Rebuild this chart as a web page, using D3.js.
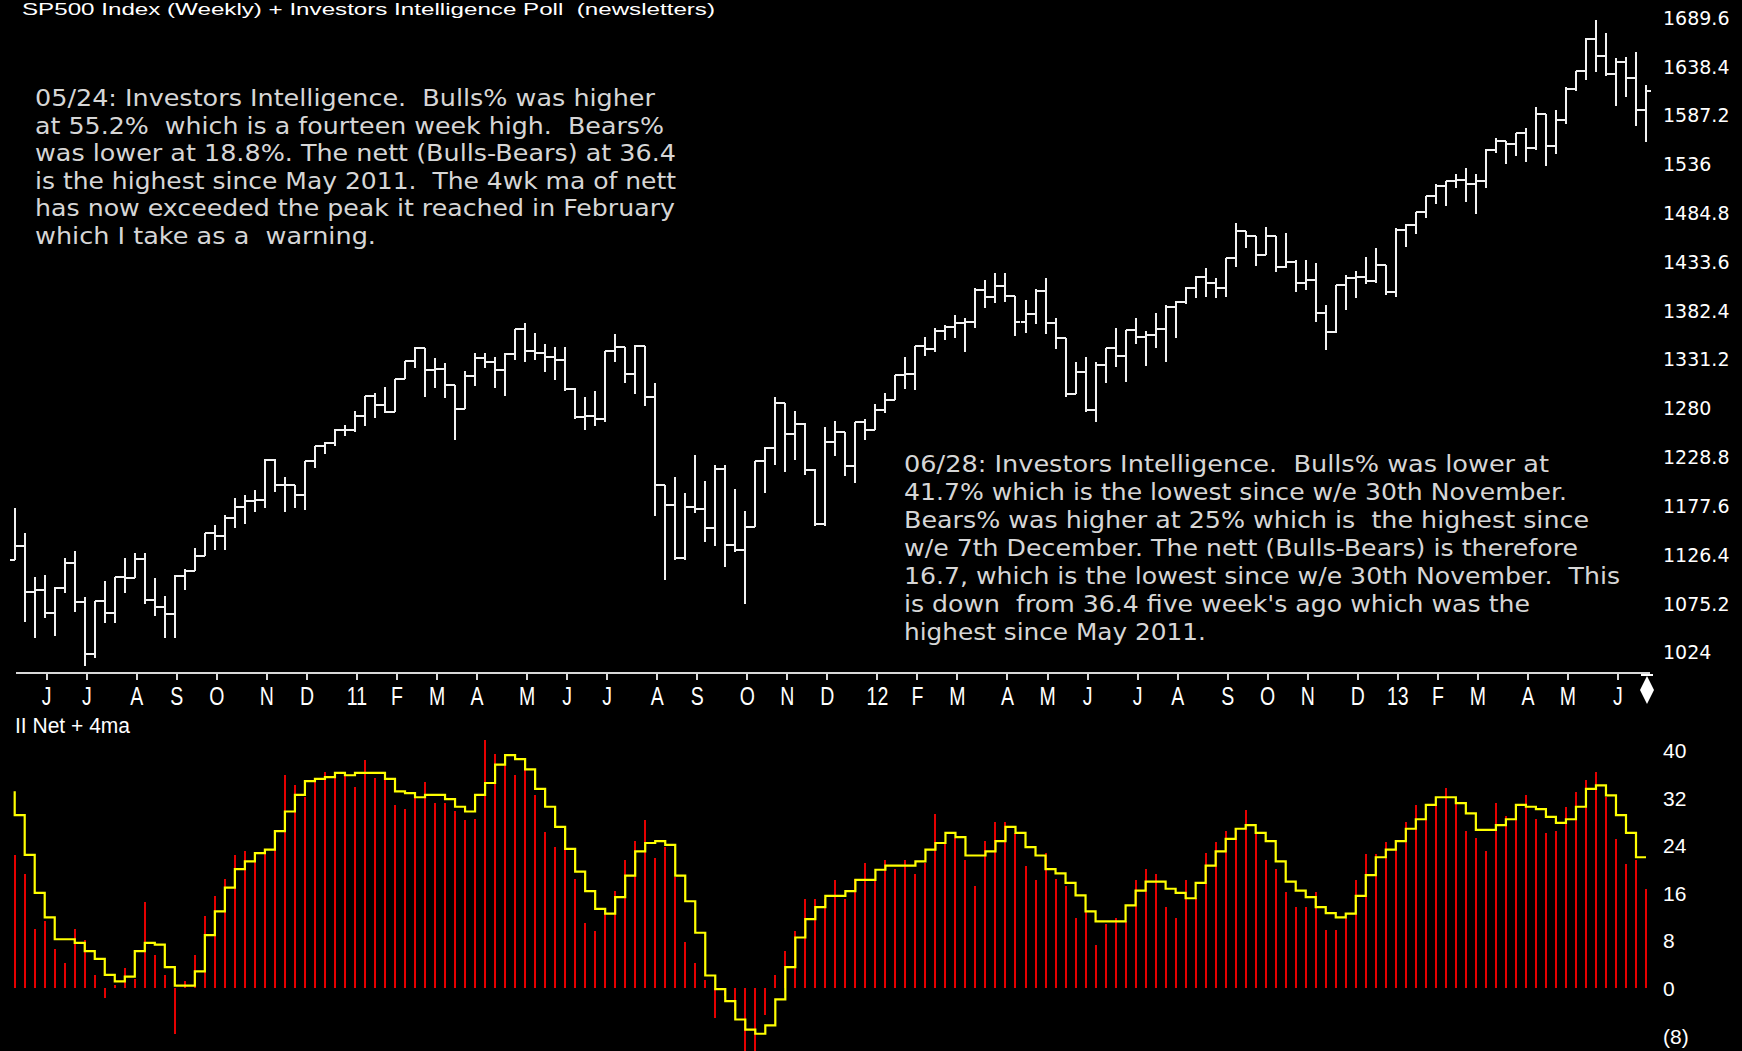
<!DOCTYPE html>
<html><head><meta charset="utf-8">
<script src="https://cdn.jsdelivr.net/npm/d3@7"></script>
<style>
html,body{margin:0;padding:0;background:#000;overflow:hidden;}
svg{display:block;}
text{white-space:pre;}
</style></head>
<body>
<svg id="chart" width="1742" height="1051"></svg>
<script>
// ---- weekly S&P 500 bars (w/e 14 May 2010 .. 28 Jun 2013) ----
const opens = [1121.0,1135.7,1087.7,1089.4,1064.9,1091.6,1117.5,1076.8,1022.6,1078.0,1064.9,1102.7,1101.6,1121.6,1079.3,1071.7,1064.6,1104.5,1109.6,1125.6,1148.7,1146.2,1165.2,1176.2,1183.1,1183.3,1225.9,1199.2,1199.7,1189.4,1224.7,1240.4,1243.9,1256.8,1257.6,1271.5,1293.2,1283.4,1276.3,1310.9,1329.2,1343.0,1319.9,1321.2,1304.3,1279.2,1313.8,1332.4,1328.2,1319.7,1337.4,1363.6,1340.2,1337.8,1333.3,1331.1,1300.2,1271.0,1271.5,1268.5,1339.7,1343.8,1316.1,1345.0,1292.3,1199.4,1178.8,1123.5,1176.8,1174.0,1154.2,1216.0,1136.4,1131.4,1155.5,1224.6,1238.3,1285.1,1253.2,1263.9,1215.7,1158.7,1244.3,1255.2,1219.7,1265.3,1257.6,1277.8,1289.1,1315.4,1316.3,1344.9,1342.6,1361.2,1365.7,1369.6,1370.9,1404.2,1397.1,1408.5,1398.1,1370.3,1378.5,1403.4,1369.1,1353.4,1295.2,1317.8,1278.0,1325.7,1342.8,1335.0,1362.2,1354.7,1356.8,1362.7,1386.0,1391.0,1405.9,1418.2,1411.1,1406.6,1437.9,1465.8,1460.2,1440.7,1460.9,1428.6,1433.2,1411.9,1414.2,1379.9,1359.9,1409.2,1416.2,1418.1,1413.6,1430.2,1402.4,1466.5,1472.1,1486.0,1503.0,1513.2,1517.9,1519.8,1515.6,1518.2,1551.2,1560.7,1556.9,1569.2,1553.3,1588.9,1555.3,1582.2,1614.4,1633.7,1667.5,1649.6,1630.7,1643.4,1626.7,1592.4];
const highs = [1175.0,1149.5,1103.4,1105.0,1092.9,1122.6,1130.7,1082.4,1077.2,1099.2,1103.4,1122.6,1128.6,1128.6,1101.7,1083.1,1105.2,1111.1,1133.1,1149.5,1157.6,1168.1,1185.6,1189.0,1194.3,1226.5,1226.5,1208.3,1199.5,1224.7,1239.7,1245.0,1257.9,1262.5,1277.2,1292.2,1295.7,1302.7,1310.4,1329.6,1344.6,1338.7,1332.4,1327.8,1301.0,1319.4,1338.3,1338.3,1334.1,1337.6,1362.8,1369.8,1359.3,1347.1,1344.6,1344.6,1301.0,1292.2,1298.5,1340.4,1357.6,1342.9,1346.4,1344.6,1306.2,1197.8,1208.3,1191.5,1231.0,1203.7,1220.5,1220.5,1195.0,1172.3,1224.7,1239.7,1292.2,1285.2,1277.5,1264.9,1216.0,1260.7,1267.0,1254.4,1264.9,1268.4,1284.5,1296.3,1314.9,1334.1,1344.6,1355.1,1363.9,1367.3,1377.8,1374.4,1405.8,1414.5,1421.5,1422.2,1397.0,1393.5,1404.8,1416.3,1374.4,1351.6,1328.9,1334.1,1328.9,1342.9,1363.9,1362.1,1374.4,1361.4,1380.3,1388.3,1392.8,1407.5,1418.7,1426.8,1416.3,1436.2,1474.6,1465.2,1459.9,1470.4,1459.3,1464.1,1435.5,1435.5,1432.7,1388.3,1409.3,1419.8,1424.3,1439.0,1447.7,1430.2,1468.7,1473.3,1486.2,1501.9,1515.2,1518.7,1525.6,1531.6,1525.6,1551.6,1563.1,1559.6,1569.0,1573.6,1596.3,1587.6,1592.8,1616.6,1634.1,1668.0,1687.2,1673.9,1647.0,1648.7,1653.3,1619.0];
const lows = [1121.0,1056.0,1038.8,1059.8,1041.2,1086.6,1066.7,1009.7,1017.8,1055.2,1055.2,1086.6,1107.0,1074.8,1062.2,1038.8,1038.8,1089.4,1112.2,1131.4,1131.4,1131.4,1154.2,1158.6,1171.6,1175.0,1192.5,1171.6,1175.0,1173.3,1217.0,1232.0,1240.4,1250.9,1255.5,1261.4,1269.5,1274.7,1276.5,1310.4,1321.9,1292.2,1301.0,1290.5,1246.8,1280.0,1303.4,1321.9,1301.0,1292.9,1330.6,1328.9,1330.6,1318.4,1309.7,1298.5,1268.5,1257.2,1261.4,1265.9,1328.9,1306.2,1295.0,1282.4,1167.1,1099.9,1120.9,1120.9,1170.0,1140.1,1135.6,1113.9,1129.6,1074.8,1156.6,1190.8,1220.5,1213.5,1225.8,1210.0,1156.9,1156.9,1229.9,1209.0,1201.3,1246.8,1257.2,1274.7,1288.7,1299.9,1299.2,1334.8,1339.4,1351.6,1353.3,1339.4,1363.9,1384.8,1390.1,1391.8,1355.8,1358.6,1368.4,1357.9,1341.9,1291.5,1295.7,1276.5,1266.0,1306.2,1323.6,1307.9,1347.5,1324.4,1342.9,1328.9,1353.3,1389.4,1395.3,1396.3,1395.3,1396.3,1427.8,1447.7,1429.2,1440.7,1423.3,1426.8,1402.3,1404.0,1370.8,1341.1,1358.6,1383.1,1395.3,1410.3,1411.1,1398.7,1397.0,1449.5,1462.8,1479.2,1494.2,1492.1,1510.7,1496.6,1483.8,1510.7,1548.0,1536.2,1544.6,1538.6,1550.9,1534.0,1546.6,1578.1,1613.1,1624.3,1633.0,1628.5,1597.0,1606.1,1576.0,1559.6];
const closes = [1135.7,1087.7,1089.4,1064.9,1091.6,1117.5,1076.8,1022.6,1078.0,1064.9,1102.7,1101.6,1121.6,1079.3,1071.7,1064.6,1104.5,1109.6,1125.6,1148.7,1146.2,1165.2,1176.2,1183.1,1183.3,1225.9,1199.2,1199.7,1189.4,1224.7,1240.4,1243.9,1256.8,1257.6,1271.5,1293.2,1283.4,1276.3,1310.9,1329.2,1343.0,1319.9,1321.2,1304.3,1279.2,1313.8,1332.4,1328.2,1319.7,1337.4,1363.6,1340.2,1337.8,1333.3,1331.1,1300.2,1271.0,1271.5,1268.5,1339.7,1343.8,1316.1,1345.0,1292.3,1199.4,1178.8,1123.5,1176.8,1174.0,1154.2,1216.0,1136.4,1131.4,1155.5,1224.6,1238.3,1285.1,1253.2,1263.9,1215.7,1158.7,1244.3,1255.2,1219.7,1265.3,1257.6,1277.8,1289.1,1315.4,1316.3,1344.9,1342.6,1361.2,1365.7,1369.6,1370.9,1404.2,1397.1,1408.5,1398.1,1370.3,1378.5,1403.4,1369.1,1353.4,1295.2,1317.8,1278.0,1325.7,1342.8,1335.0,1362.2,1354.7,1356.8,1362.7,1386.0,1391.0,1405.9,1418.2,1411.1,1406.6,1437.9,1465.8,1460.2,1440.7,1460.9,1428.6,1433.2,1411.9,1414.2,1379.9,1359.9,1409.2,1416.2,1418.1,1413.6,1430.2,1402.4,1466.5,1472.1,1486.0,1503.0,1513.2,1517.9,1519.8,1515.6,1518.2,1551.2,1560.7,1556.9,1569.2,1553.3,1588.9,1555.3,1582.2,1614.4,1633.7,1667.5,1649.6,1630.7,1643.4,1626.7,1592.4,1613.0];

// ---- Investors Intelligence nett (Bulls-Bears) and its 4 week MA ----
const nett = [22.4,19.1,10.0,11.3,6.6,4.2,10.0,8.0,2.2,-1.7,0.5,3.3,1.5,14.4,5.6,2.2,-7.7,1.1,5.6,12.1,15.4,18.4,22.4,23.1,21.5,22.7,24.0,35.9,34.2,32.2,34.8,36.3,35.6,35.7,33.9,38.3,35.3,35.1,30.8,30.2,32.0,34.6,31.2,31.2,29.8,28.2,28.5,41.7,39.3,39.0,35.9,36.7,32.5,26.2,23.8,24.5,18.4,10.9,9.6,12.6,16.4,21.5,24.8,28.2,21.8,23.8,18.7,7.7,4.2,1.3,-5.0,-1.3,-3.8,-11.1,-11.8,-4.6,2.2,6.3,9.6,14.9,14.9,15.0,18.1,14.9,18.4,21.1,18.3,21.5,20.0,21.5,19.1,21.1,29.2,24.4,25.2,21.5,17.1,24.8,27.9,27.9,26.1,20.5,18.1,22.8,18.4,17.1,11.8,12.8,7.3,10.7,11.8,11.2,18.1,20.1,19.1,13.7,11.8,18.1,15.1,22.8,24.5,26.5,26.8,29.9,26.1,21.5,20.1,16.1,13.7,13.7,16.1,9.7,9.7,11.8,18.1,22.5,22.5,24.5,24.8,27.9,30.8,28.3,30.8,33.7,31.1,26.5,25.2,23.1,31.2,28.9,30.5,32.5,28.5,26.0,26.5,30.5,33.0,35.0,36.4,32.2,25.1,20.8,21.5,16.7];
const nettMA = [33.1,29.1,22.4,16.0,11.9,8.2,8.2,7.6,6.2,4.9,2.2,1.1,1.9,6.2,7.6,7.3,3.5,0.4,0.4,2.8,8.9,12.9,16.9,20.0,21.3,22.7,23.3,26.4,29.7,32.5,34.8,35.2,35.5,36.2,35.8,36.2,36.2,36.2,35.2,33.1,32.8,32.1,32.5,32.5,31.8,30.5,29.7,32.5,34.5,37.6,39.2,38.5,36.8,33.5,30.5,27.1,23.4,19.6,16.3,13.3,12.5,15.3,18.9,23.0,24.4,24.7,24.1,18.9,14.6,9.3,2.1,-0.2,-2.2,-5.3,-7.0,-7.7,-6.3,-1.9,3.5,8.5,11.6,13.6,15.5,15.5,16.3,18.2,18.2,19.9,20.6,20.6,20.6,21.3,23.3,24.4,26.1,25.4,22.3,22.3,23.0,24.7,27.1,26.1,23.7,22.3,20.0,19.3,17.7,15.6,12.9,11.2,11.2,11.2,13.9,16.4,17.9,17.9,16.7,16.0,15.1,17.7,20.6,23.0,25.1,26.8,27.4,26.1,24.7,21.3,17.9,16.4,15.3,13.6,12.6,11.9,12.5,15.5,19.0,22.0,23.3,24.7,26.8,28.4,30.8,32.1,32.1,31.1,29.4,26.6,26.6,27.4,28.4,30.8,30.5,30.1,28.8,27.8,28.4,30.5,33.5,34.1,32.4,29.1,26.1,22.0];

// ---- axes ----
const monthTickIdx = [3,7,12,16,20,25,29,34,38,42,46,51,55,59,64,68,73,77,81,86,90,94,99,103,107,112,116,121,125,129,134,138,142,146,151,155,160];
const monthLabels = ["J","J","A","S","O","N","D","11","F","M","A","M","J","J","A","S","O","N","D","12","F","M","A","M","J","J","A","S","O","N","D","13","F","M","A","M","J"];
const priceTicks = [1024,1075.2,1126.4,1177.6,1228.8,1280,1331.2,1382.4,1433.6,1484.8,1536,1587.2,1638.4,1689.6];
const priceTickLabels = ["1024","1075.2","1126.4","1177.6","1228.8","1280","1331.2","1382.4","1433.6","1484.8","1536","1587.2","1638.4","1689.6"];
const netTicks = [-8,0,8,16,24,32,40];
const netTickLabels = ["(8)","0","8","16","24","32","40"];

const titleText = "SP500 Index (Weekly) + Investors Intelligence Poll  (newsletters)";
const panelLabel = "II Net + 4ma";
const noteLeft = [
 "05/24: Investors Intelligence.  Bulls% was higher",
 "at 55.2%  which is a fourteen week high.  Bears%",
 "was lower at 18.8%. The nett (Bulls-Bears) at 36.4",
 "is the highest since May 2011.  The 4wk ma of nett",
 "has now exceeded the peak it reached in February",
 "which I take as a  warning."];
const noteLeftWidths = [620,629,641,641,640,341];
const noteRight = [
 "06/28: Investors Intelligence.  Bulls% was lower at",
 "41.7% which is the lowest since w/e 30th November.",
 "Bears% was higher at 25% which is  the highest since",
 "w/e 7th December. The nett (Bulls-Bears) is therefore",
 "16.7, which is the lowest since w/e 30th November.  This",
 "is down  from 36.4 five week's ago which was the",
 "highest since May 2011."];
const noteRightWidths = [645,663,685,674,716,626,302];

// ---- drawing ----
const svg = d3.select("#chart");
svg.append("rect").attr("width",1742).attr("height",1051).attr("fill","#000");

const n = closes.length;
const x = d3.scaleLinear().domain([0, n-1]).range([14.7, 1646]);
const yP = d3.scaleLinear().domain([1024, 1689.6]).range([652.4, 17.7]);
const yN = d3.scaleLinear().domain([0, 40]).range([988, 750.3]);

// title (kept fully inside the picture)
svg.append("text").attr("x",22).attr("y",15)
  .attr("font-family","Liberation Sans, Arial, sans-serif").attr("font-size",17)
  .attr("fill","#ffffff").attr("textLength",693).attr("lengthAdjust","spacingAndGlyphs")
  .text(titleText);

// price bars
const bars = svg.append("g").attr("stroke","#f2f2f2").attr("stroke-width",2).attr("fill","none")
  .attr("shape-rendering","crispEdges");
d3.range(n).forEach(i => {
  const xi = x(i);
  const hi = Math.max(highs[i], opens[i], closes[i]);
  const lo = Math.min(lows[i], opens[i], closes[i]);
  bars.append("path").attr("d",
    `M${xi},${yP(hi)}V${yP(lo)}M${xi-5},${yP(opens[i])}H${xi}M${xi},${yP(closes[i])}H${xi+5}`);
});

// price axis labels
svg.append("g").selectAll("text").data(priceTicks).join("text")
  .attr("x",1663).attr("y",d => yP(d)+7)
  .attr("font-family","DejaVu Sans, sans-serif").attr("font-size",19)
  .attr("fill","#ffffff")
  .text((d,i) => priceTickLabels[i]);

// x axis line + ticks + month labels
const axisY = 673;
svg.append("line").attr("x1",16).attr("x2",1650).attr("y1",axisY).attr("y2",axisY)
  .attr("stroke","#d8d8d8").attr("stroke-width",2).attr("shape-rendering","crispEdges");
const tg = svg.append("g");
monthTickIdx.forEach((idx, k) => {
  const tx = x(idx) + 2;
  tg.append("line").attr("x1",tx).attr("x2",tx).attr("y1",axisY).attr("y2",axisY+7)
    .attr("stroke","#d8d8d8").attr("stroke-width",2).attr("shape-rendering","crispEdges");
  tg.append("g").attr("transform",`translate(${tx},705) scale(0.78,1)`)
    .append("text").attr("text-anchor","middle")
    .attr("font-family","Liberation Sans, Arial, sans-serif").attr("font-size",25)
    .attr("fill","#ffffff").text(monthLabels[k]);
});
// end marker diamond
svg.append("path").attr("d","M1647,676L1654,690L1647,704L1640,690Z").attr("fill","#ffffff");
svg.append("line").attr("x1",1641).attr("x2",1653).attr("y1",675).attr("y2",675)
  .attr("stroke","#ffffff").attr("stroke-width",2);

// lower panel label
svg.append("text").attr("x",15).attr("y",733)
  .attr("font-family","Liberation Sans, Arial, sans-serif").attr("font-size",22)
  .attr("fill","#ffffff").attr("textLength",115).attr("lengthAdjust","spacingAndGlyphs")
  .text(panelLabel);

// nett red bars
svg.append("g").attr("stroke","#e60000").attr("stroke-width",2).attr("shape-rendering","crispEdges")
  .selectAll("line").data(nett).join("line")
  .attr("x1",(d,i)=>x(i)).attr("x2",(d,i)=>x(i))
  .attr("y1",yN(0)).attr("y2",d=>yN(d));

// 4wk MA step line
const line = d3.line().x((d,i)=>x(i)).y(d=>yN(d)).curve(d3.curveStepBefore);
svg.append("path").attr("d",line(nettMA)).attr("fill","none")
  .attr("stroke","#ffff00").attr("stroke-width",2.2);

// lower axis labels
svg.append("g").selectAll("text").data(netTicks).join("text")
  .attr("x",1663).attr("y",d => yN(d)+8)
  .attr("font-family","Liberation Sans, Arial, sans-serif").attr("font-size",21)
  .attr("fill","#ffffff")
  .text((d,i)=>netTickLabels[i]);

// annotations
const noteFont = "DejaVu Sans, sans-serif";
noteLeft.forEach((t,i) => {
  svg.append("text").attr("x",35).attr("y",106 + i*27.6)
    .attr("font-family",noteFont).attr("font-size",23).attr("fill","#d6d6d6")
    .attr("textLength",noteLeftWidths[i]).attr("lengthAdjust","spacingAndGlyphs").text(t);
});
noteRight.forEach((t,i) => {
  svg.append("text").attr("x",904).attr("y",471.5 + i*28.1)
    .attr("font-family",noteFont).attr("font-size",23).attr("fill","#d6d6d6")
    .attr("textLength",noteRightWidths[i]).attr("lengthAdjust","spacingAndGlyphs").text(t);
});
</script>
</body></html>
